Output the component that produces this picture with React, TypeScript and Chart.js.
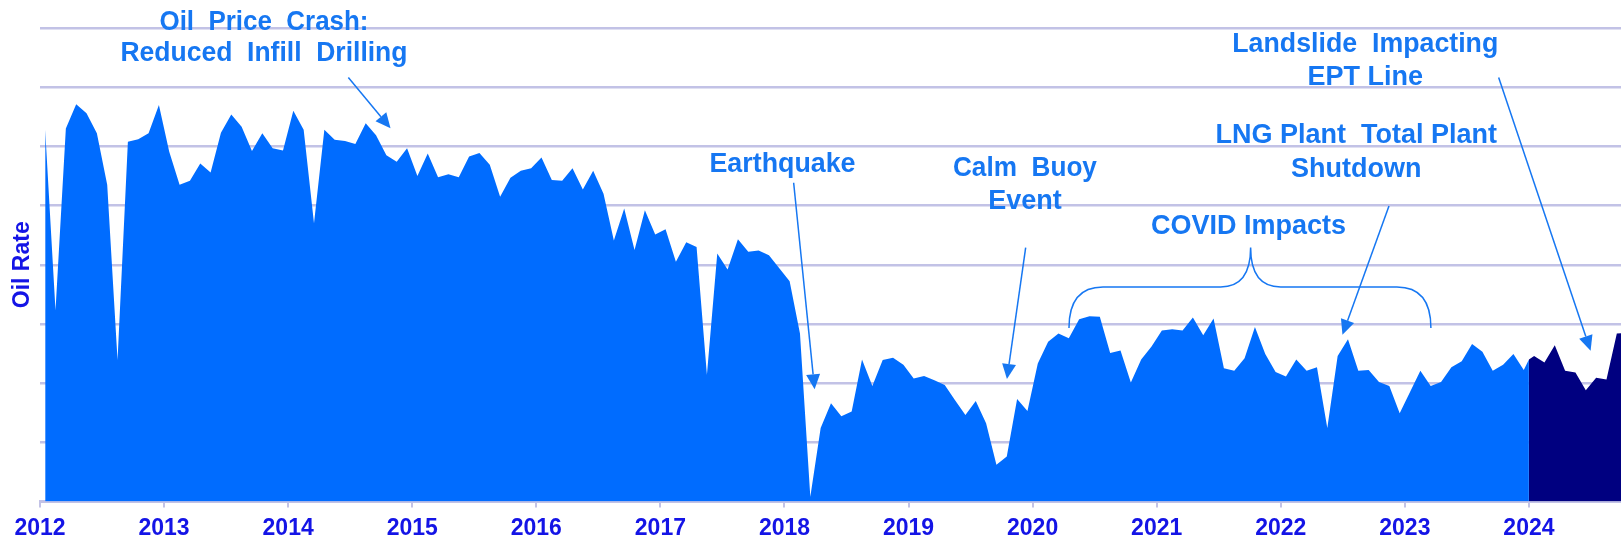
import React, { useEffect, useRef } from 'react';
import { Chart, registerables } from 'chart.js';

Chart.register(...registerables);

// ---------------- data ----------------
const START_YEAR = 2012;
const YEAR_TICKS = [2012, 2013, 2014, 2015, 2016, 2017, 2018, 2019, 2020, 2021, 2022, 2023, 2024];

// monthly oil rate (axis units, 0..8), Jan 2012 .. Dec 2023
const HISTORY_RATE = [
  6.28, 3.23, 6.30, 6.71, 6.56, 6.22, 5.35, 2.39, 6.08, 6.12, 6.22, 6.70,
  5.91, 5.35, 5.42, 5.71, 5.56, 6.23, 6.54, 6.33, 5.92, 6.22, 5.97, 5.93,
  6.60, 6.28, 4.70, 6.28, 6.11, 6.09, 6.04, 6.39, 6.19, 5.85, 5.74, 5.97,
  5.50, 5.88, 5.48, 5.53, 5.48, 5.83, 5.89, 5.69, 5.15, 5.47, 5.59, 5.63,
  5.81, 5.43, 5.42, 5.63, 5.27, 5.59, 5.20, 4.41, 4.95, 4.25, 4.92, 4.51,
  4.60, 4.05, 4.38, 4.30, 2.14, 4.19, 3.92, 4.43, 4.22, 4.24, 4.16, 3.94,
  3.72, 2.84, 0.08, 1.24, 1.66, 1.44, 1.52, 2.40, 1.95, 2.39, 2.43, 2.31,
  2.08, 2.12, 2.05, 1.97, 1.71, 1.46, 1.70, 1.32, 0.62, 0.76, 1.73, 1.53,
  2.33, 2.70, 2.84, 2.76, 3.08, 3.13, 3.12, 2.51, 2.55, 2.01, 2.40, 2.62,
  2.89, 2.91, 2.89, 3.11, 2.81, 3.09, 2.25, 2.21, 2.42, 2.95, 2.49, 2.19,
  2.11, 2.40, 2.21, 2.27, 1.24, 2.46, 2.74, 2.21, 2.22, 2.02, 1.95, 1.49,
  1.85, 2.21, 1.95, 2.02, 2.27, 2.37, 2.66, 2.53, 2.21, 2.31, 2.49, 2.22,
];

// value at the 2024 boundary, and monthly rate from Jan 2024
const BOUNDARY_YEAR = 2024;
const BOUNDARY_RATE = 2.4;
const RECENT_RATE = [2.46, 2.35, 2.64, 2.21, 2.18, 1.88, 2.09, 2.06, 2.84, 2.85];

const Y_TITLE = 'Oil Rate';

// annotation texts
const NOTE_OIL_PRICE = ['Oil  Price  Crash:', 'Reduced  Infill  Drilling'];
const NOTE_EARTHQUAKE = ['Earthquake'];
const NOTE_CALM_BUOY = ['Calm  Buoy', 'Event'];
const NOTE_COVID = ['COVID Impacts'];
const NOTE_LNG = ['LNG Plant  Total Plant', 'Shutdown'];
const NOTE_LANDSLIDE = ['Landslide  Impacting', 'EPT Line'];

// ---------------- styles / layout ----------------
const FONT = "'Liberation Sans', Arial, sans-serif";
const AREA_BLUE = '#006cff';
const AREA_DARK = '#000080';
const AXIS_BLUE = 'rgb(20,20,230)';
const NOTE_BLUE = 'rgb(22,119,242)';
const GRID = 'rgb(194,194,230)';

// annotation placement in data units (x: year, y: axis value)
const NOTES = [
  { lines: NOTE_OIL_PRICE, x: 2013.805, ys: [7.973, 7.447], widths: [209, 287], arrow: [2014.485, 7.162, 2014.825, 6.307] },
  { lines: NOTE_EARTHQUAKE, x: 2017.984, ys: [5.562], widths: [146], arrow: [2018.074, 5.386, 2018.243, 1.896] },
  { lines: NOTE_CALM_BUOY, x: 2019.938, ys: [5.504, 4.937], widths: [144, 76], arrow: [2019.944, 4.288, 2019.793, 2.07] },
  { lines: NOTE_COVID, x: 2021.74, ys: [4.519], widths: [199], arrow: null },
  { lines: NOTE_LNG, x: 2022.609, ys: [6.052, 5.486], widths: [287, 134], arrow: [2022.872, 4.992, 2022.497, 2.816] },
  { lines: NOTE_LANDSLIDE, x: 2022.681, ys: [7.587, 7.045], widths: [266, 116], arrow: [2023.756, 7.162, 2024.497, 2.548] },
];
// COVID brace: left end, right end, peak, level
const BRACE = { x0: 2020.293, x1: 2023.21, xp: 2021.757, yEnd: 2.931, yLevel: 3.624, yPeak: 4.29 };

function drawArrow(ctx: CanvasRenderingContext2D, x0: number, y0: number, x1: number, y1: number) {
  const dx = x1 - x0;
  const dy = y1 - y0;
  const len = Math.hypot(dx, dy);
  const ux = dx / len;
  const uy = dy / len;
  const L = 15;
  const W = 7;
  const bx = x1 - ux * L;
  const by = y1 - uy * L;
  ctx.beginPath();
  ctx.moveTo(x0, y0);
  ctx.lineTo(bx, by);
  ctx.stroke();
  ctx.beginPath();
  ctx.moveTo(x1, y1);
  ctx.lineTo(bx - uy * W, by + ux * W);
  ctx.lineTo(bx + uy * W, by - ux * W);
  ctx.closePath();
  ctx.fill();
}

const notesPlugin = {
  id: 'notes',
  afterDraw(chart: any) {
    const { ctx } = chart;
    const sx = chart.scales.x;
    const sy = chart.scales.y;
    const px = (v: number) => sx.getPixelForValue(v);
    const py = (v: number) => sy.getPixelForValue(v);
    ctx.save();
    ctx.fillStyle = NOTE_BLUE;
    ctx.strokeStyle = NOTE_BLUE;
    ctx.lineWidth = 1.5;
    ctx.font = `bold 27px ${FONT}`;
    ctx.textAlign = 'center';
    ctx.textBaseline = 'alphabetic';
    for (const n of NOTES) {
      n.lines.forEach((t, k) => ctx.fillText(t, px(n.x), py(n.ys[k]), n.widths[k]));
      if (n.arrow) {
        const [a, b, c, d] = n.arrow;
        drawArrow(ctx, px(a), py(b), px(c), py(d));
      }
    }
    // brace
    const xl = px(BRACE.x0);
    const xr = px(BRACE.x1);
    const xp = px(BRACE.xp);
    const ye = py(BRACE.yEnd);
    const yh = py(BRACE.yLevel);
    const yk = py(BRACE.yPeak);
    const r = 34;
    const rp = 30;
    ctx.beginPath();
    ctx.moveTo(xl, ye);
    ctx.quadraticCurveTo(xl, yh, xl + r, yh);
    ctx.lineTo(xp - rp, yh);
    ctx.quadraticCurveTo(xp, yh, xp, yk);
    ctx.quadraticCurveTo(xp, yh, xp + rp, yh);
    ctx.lineTo(xr - r, yh);
    ctx.quadraticCurveTo(xr, yh, xr, ye);
    ctx.stroke();
    ctx.restore();
  },
};

export default function App() {
  const ref = useRef<HTMLCanvasElement>(null);

  useEffect(() => {
    document.body.style.margin = '0';
    const canvas = ref.current;
    if (!canvas) return;
    const monthX = (i: number) => START_YEAR + (i + 0.5) / 12;
    const history = HISTORY_RATE.map((v, i) => ({ x: monthX(i), y: v }));
    history.push({ x: BOUNDARY_YEAR, y: BOUNDARY_RATE });
    const recent = [
      { x: BOUNDARY_YEAR, y: BOUNDARY_RATE },
      ...RECENT_RATE.map((v, i) => ({ x: monthX(HISTORY_RATE.length + i), y: v })),
    ];

    const chart = new Chart(canvas, {
      type: 'line',
      data: {
        datasets: [
          {
            data: history,
            backgroundColor: AREA_BLUE,
            borderWidth: 0,
            pointRadius: 0,
            fill: 'origin',
            tension: 0,
          },
          {
            data: recent,
            backgroundColor: AREA_DARK,
            borderWidth: 0,
            pointRadius: 0,
            fill: 'origin',
            tension: 0,
          },
        ],
      },
      options: {
        responsive: false,
        animation: false,
        events: [],
        layout: { padding: { top: 28, left: 0, right: 0, bottom: 0 } },
        plugins: { legend: { display: false }, tooltip: { enabled: false } },
        scales: {
          x: {
            type: 'linear',
            min: 2012,
            max: 2024.742,
            afterBuildTicks: (s: any) => {
              s.ticks = YEAR_TICKS.map((v) => ({ value: v }));
            },
            afterFit: (s: any) => {
              s.height = 40.5;
            },
            ticks: {
              autoSkip: false,
              maxRotation: 0,
              padding: 7,
              color: AXIS_BLUE,
              font: { family: FONT, size: 23, weight: 'bold' },
              callback: (v: any) => String(v),
            },
            grid: { drawOnChartArea: false, drawTicks: true, tickLength: 6, color: GRID, lineWidth: 2 },
            border: { display: true, color: GRID, width: 3 },
          },
          y: {
            min: 0,
            max: 8,
            ticks: { display: false, stepSize: 1 },
            afterFit: (s: any) => {
              s.width = 40;
            },
            grid: { color: GRID, lineWidth: 2.5, drawTicks: false },
            border: { display: false },
            title: {
              display: true,
              text: Y_TITLE,
              color: AXIS_BLUE,
              font: { family: FONT, size: 23, weight: 'bold' },
              padding: { top: 9, bottom: 0 },
            },
          },
        },
      },
      plugins: [notesPlugin],
    } as any);

    return () => chart.destroy();
  }, []);

  return <canvas ref={ref} width={1621} height={542} style={{ display: 'block' }} />;
}
